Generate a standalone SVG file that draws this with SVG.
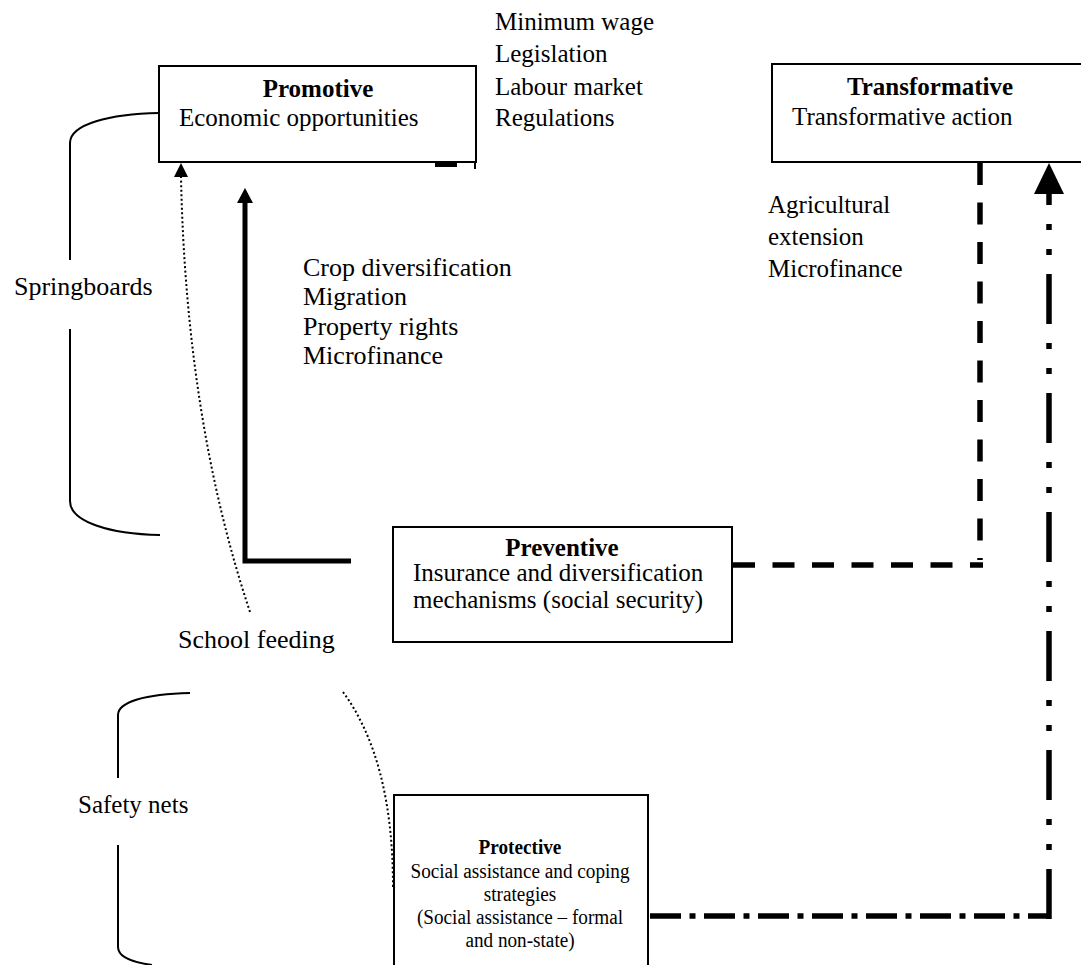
<svg xmlns="http://www.w3.org/2000/svg" width="1081" height="965" viewBox="0 0 1081 965">
<style>
text{font-family:"Liberation Serif","Times New Roman",serif;font-size:25px;fill:#000}
.b{font-weight:bold}
.m{text-anchor:middle}
.s{font-size:20px}
.l{font-size:26px}
.box{fill:#fff;stroke:#000;stroke-width:2}
.br{fill:none;stroke:#000;stroke-width:2}
.dot{fill:none;stroke:#000;stroke-width:2;stroke-dasharray:2 2.5}
.thick{fill:none;stroke:#000;stroke-width:5}
.dash{fill:none;stroke:#000;stroke-width:5.5;stroke-dasharray:22 17.5}
.dd{fill:none;stroke:#000;stroke-width:5.5}
.head{fill:#000}
</style>
<rect width="1081" height="965" fill="#fff"/>
<g id="promotive">
<rect class="box" x="159" y="66" width="317" height="96"/>
<text class="b m" x="318" y="97">Promotive</text>
<text x="179" y="126">Economic opportunities</text>
</g>
<g id="transformative">
<rect class="box" x="772" y="64" width="320" height="98"/>
<text class="b m" x="930" y="95">Transformative</text>
<text x="792" y="125">Transformative action</text>
</g>
<g id="preventive">
<rect class="box" x="393" y="527" width="339" height="115"/>
<text class="b m" x="562" y="556">Preventive</text>
<text x="413" y="581">Insurance and diversification</text>
<text x="413" y="608">mechanisms (social security)</text>
</g>
<g id="protective">
<rect class="box" x="394" y="795" width="254" height="185"/>
<g transform="translate(520,0) scale(0.96,1)">
<text class="b m s" x="0" y="854">Protective</text>
<text class="m s" x="0" y="878">Social assistance and coping</text>
<text class="m s" x="0" y="901">strategies</text>
<text class="m s" x="0" y="924">(Social assistance – formal</text>
<text class="m s" x="0" y="947">and non-state)</text>
</g>
</g>
<g id="label-promotive-measures">
<text x="495" y="30">Minimum wage</text>
<text x="495" y="62">Legislation</text>
<text x="495" y="95">Labour market</text>
<text x="495" y="126">Regulations</text>
</g>
<g id="label-transformative-measures">
<text x="768" y="213">Agricultural</text>
<text x="768" y="245">extension</text>
<text x="768" y="277">Microfinance</text>
</g>
<g id="label-preventive-measures">
<text class="l" x="303" y="276">Crop diversification</text>
<text class="l" x="303" y="305">Migration</text>
<text class="l" x="303" y="335">Property rights</text>
<text class="l" x="303" y="364">Microfinance</text>
</g>
<g id="springboards">
<path class="br" d="M159,113 C110,114 70,124 70,143 V260 M70,329 V501 C70,522 110,534 160,535"/>
<text class="l" x="14" y="295">Springboards</text>
</g>
<g id="safety-nets">
<path class="br" d="M190,693 C145,694 118,702 118,715 V778 M118,845 V947 C118,956 130,962 152,965"/>
<text x="78" y="813">Safety nets</text>
</g>
<g id="school-feeding">
<text class="l" x="178" y="648">School feeding</text>
</g>
<g id="connectors">
<path class="dot" d="M250,612 Q186,420 181,177"/>
<polygon class="head" points="181,163 174,177 188,177"/>
<path class="dot" d="M343,692 Q393,760 393,887"/>
<path class="thick" d="M351,561 H245 V200"/>
<polygon class="head" points="245,188 237,203 253,203"/>
<path class="dash" d="M980,163 V560"/>
<path class="dash" d="M733,565 H983"/>
<path class="dd" stroke-dasharray="50 19 6 19 6 19" stroke-dashoffset="38" d="M1049,193 V919"/>
<path class="dd" stroke-dasharray="31 8.5 6 8.5" d="M650,916 H1049"/>
<polygon class="head" points="1049,163 1034,194 1064,194"/>
<path d="M435,165 H457" stroke="#000" stroke-width="4"/>
<path d="M475,162 V169" stroke="#000" stroke-width="2"/>
</g>
</svg>
